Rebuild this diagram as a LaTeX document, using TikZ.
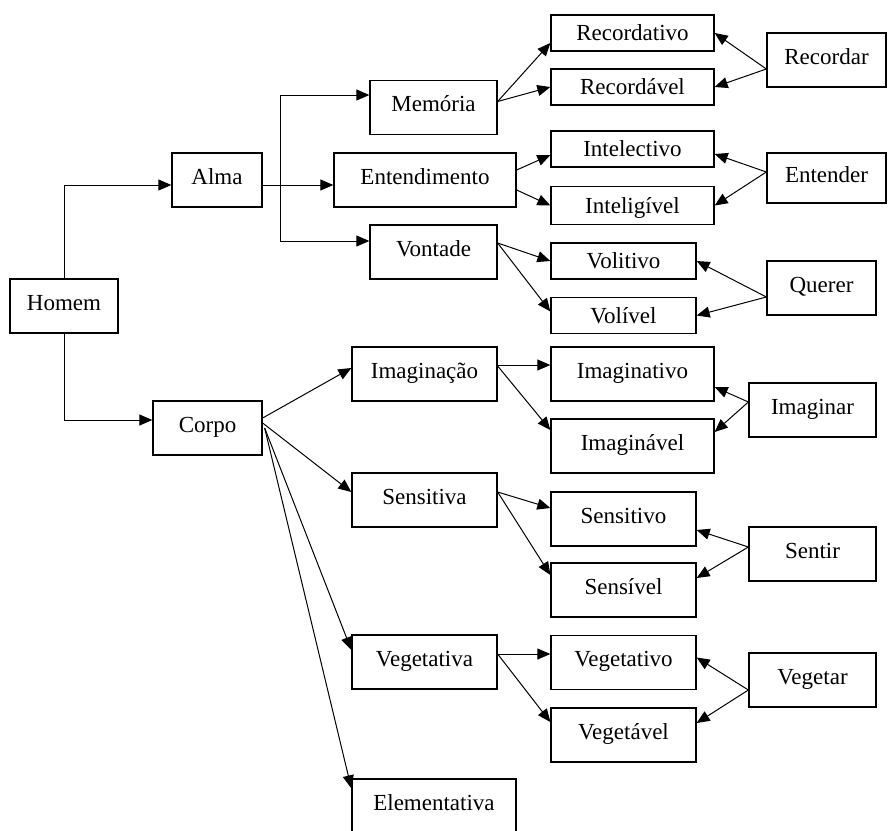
\documentclass[tikz,border=0pt]{standalone}
\usepackage{fontspec}
\setmainfont{Liberation Serif}
\usetikzlibrary{arrows.meta,positioning}

\begin{document}
\begin{tikzpicture}[x=1pt,y=-1pt,
  box/.style={draw,line width=1.3pt,inner sep=0pt,minimum height=54pt,text height=17pt,text depth=9pt,font=\fontsize{23}{27}\selectfont},
  small/.style={box,minimum height=36pt,text height=16pt,text depth=1pt},
  arr/.style={-{Triangle[length=13pt,width=11pt]},line width=1pt}]

\useasboundingbox (0,0) rectangle (888,830);

% first level
\node[box,minimum width=108pt] (homem) at (64,306) {Homem};
\node[box,minimum width=90pt] (alma) at (217,180) {Alma};
\node[box,minimum width=109pt] (corpo) at (207.5,428) {Corpo};

\node[box,minimum width=127pt] (mem) at (433.5,107.5) {Memória};
\node[box,minimum width=182pt] (ent) at (425,180) {Entendimento};
\node[box,minimum width=127pt] (von) at (433.5,252) {Vontade};

\node[box,minimum width=145pt] (imag) at (424.5,374) {Imaginação};
\node[box,minimum width=145pt] (sens) at (424.5,500) {Sensitiva};
\node[box,minimum width=145pt] (veg) at (424.5,662) {Vegetativa};
\node[box,minimum width=164pt] (elem) at (434,806) {Elementativa};

% pairs
\node[small,minimum width=163pt] (rec1) at (632.5,33) {Recordativo};
\node[small,minimum width=163pt] (rec2) at (632.5,87) {Recordável};
\node[small,minimum width=163pt] (int1) at (632.5,149) {Intelectivo};
\node[small,minimum width=163pt,minimum height=38pt] (int2) at (632.5,205.5) {Inteligível};
\node[small,minimum width=145pt] (vol1) at (623.5,261) {Volitivo};
\node[small,minimum width=145pt] (vol2) at (623.5,315.5) {Volível};

\node[box,minimum width=163pt] (ima1) at (632.5,374) {Imaginativo};
\node[box,minimum width=163pt] (ima2) at (632.5,446) {Imaginável};
\node[box,minimum width=145pt] (sen1) at (623.5,519) {Sensitivo};
\node[box,minimum width=145pt] (sen2) at (623.5,590) {Sensível};
\node[box,minimum width=145pt] (veg1) at (623.5,662.5) {Vegetativo};
\node[box,minimum width=145pt] (veg2) at (623.5,735) {Vegetável};

% verbs
\node[box,minimum width=119pt] (recordar) at (826.5,60) {Recordar};
\node[box,minimum width=119pt,minimum height=50pt] (entender) at (826.5,178) {Entender};
\node[box,minimum width=109pt] (querer) at (821.5,288) {Querer};
\node[box,minimum width=127pt] (imaginar) at (812.5,410) {Imaginar};
\node[box,minimum width=127pt] (sentir) at (812.5,554) {Sentir};
\node[box,minimum width=127pt] (vegetar) at (812.5,680) {Vegetar};

% homem
\draw[arr] (homem.north) |- ([yshift=-5pt]alma.west);
\draw[arr] (homem.south) |- ([yshift=8pt]corpo.west);

% alma
\coordinate (forktop) at (280,95);
\coordinate (forkbot) at (280,241);
\draw[line width=1pt] (forktop) -- (forkbot);
\draw[arr] (forktop) -- (forktop -| mem.west);
\draw[arr] (forkbot) -- (forkbot -| von.west);
\draw[arr] ([yshift=-5pt]alma.east) -- ([yshift=-5pt]ent.west);

\path[arr] ([yshift=6pt]mem.east) edge ([yshift=-10pt]rec1.west);
\path[arr] ([yshift=6pt]mem.east) edge (rec2.west);
\path[arr] ([yshift=-9pt]recordar.west) edge (rec1.east);
\path[arr] ([yshift=-9pt]recordar.west) edge (rec2.east);

\path[arr] ([yshift=10pt]ent.east) edge ([yshift=-6pt]int1.west);
\path[arr] ([yshift=-10pt]ent.east) edge (int2.west);
\path[arr] ([yshift=6pt]entender.west) edge ([yshift=-5pt]int1.east);
\path[arr] ([yshift=6pt]entender.west) edge (int2.east);

\path[arr] ([yshift=9pt]von.east) edge (vol1.west);
\path[arr] ([yshift=9pt]von.east) edge ([yshift=4pt]vol2.west);
\path[arr] ([yshift=-9pt]querer.west) edge (vol1.east);
\path[arr] ([yshift=-9pt]querer.west) edge (vol2.east);

% corpo
\path[arr] ([yshift=10pt]corpo.east) edge ([yshift=6pt]imag.west);
\path[arr] ([yshift=5pt]corpo.east) edge ([yshift=8pt]sens.west);
\path[arr] ([xshift=2pt]corpo.east) edge ([yshift=12pt]veg.west);
\path[arr] ([xshift=2pt]corpo.east) edge ([yshift=-10pt]elem.north west);

\draw[arr] ([yshift=9pt]imag.east) -- ([yshift=9pt]imag.east -| ima1.west);
\path[arr] ([yshift=8pt]imag.east) edge ([yshift=16pt]ima2.west);
\path[arr] ([yshift=8pt]imaginar.west) edge ([yshift=-13pt]ima1.east);
\path[arr] ([yshift=8pt]imaginar.west) edge ([yshift=14pt]ima2.east);

\path[arr] ([yshift=8pt]sens.east) edge ([yshift=11pt]sen1.west);
\path[arr] ([yshift=8pt]sens.east) edge ([yshift=15pt]sen2.west);
\path[arr] ([yshift=7pt]sentir.west) edge ([yshift=-11pt]sen1.east);
\path[arr] ([yshift=7pt]sentir.west) edge ([yshift=12pt]sen2.east);

\draw[arr] ([yshift=8pt]veg.east) -- ([yshift=8pt]veg.east -| veg1.west);
\path[arr] ([yshift=8pt]veg.east) edge ([yshift=13pt]veg2.west);
\path[arr] ([yshift=-10pt]vegetar.west) edge ([yshift=5pt]veg1.east);
\path[arr] ([yshift=-10pt]vegetar.west) edge ([yshift=12pt]veg2.east);

\end{tikzpicture}
\end{document}
